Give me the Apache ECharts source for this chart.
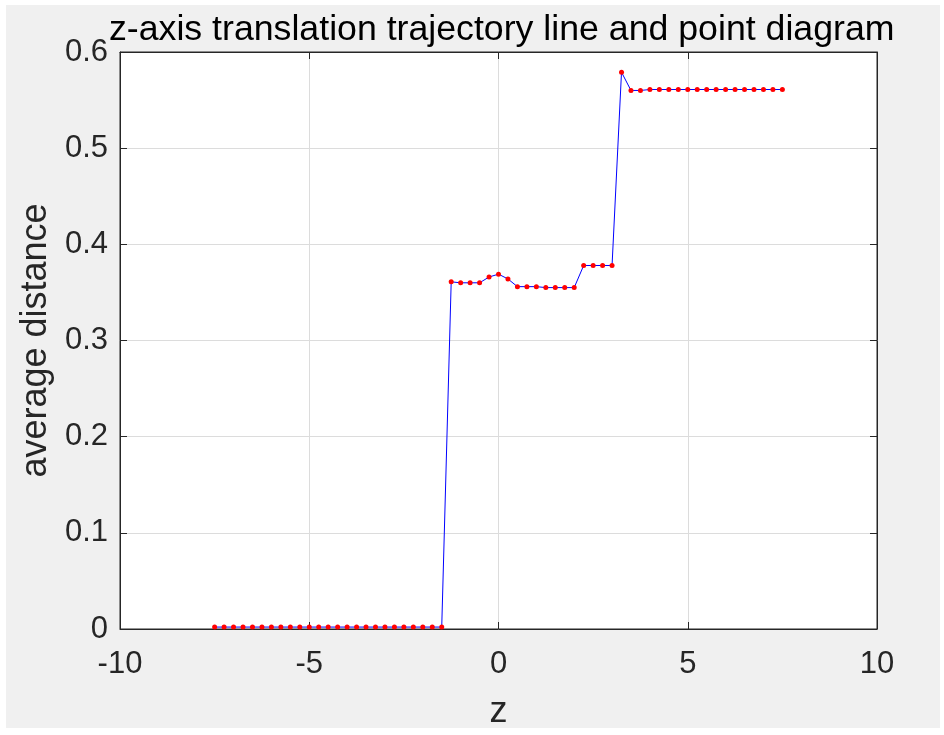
<!DOCTYPE html>
<html><head><meta charset="utf-8">
<script src="https://cdn.jsdelivr.net/npm/echarts@6/dist/echarts.min.js"></script>
<style>html,body{margin:0;padding:0;background:#fff;}#c{width:944px;height:735px;}</style>
</head><body><div id="c"></div>
<script>
var zNeg = [-7.5,-7.25,-7,-6.75,-6.5,-6.25,-6,-5.75,-5.5,-5.25,-5,-4.75,-4.5,-4.25,-4,-3.75,-3.5,-3.25,-3,-2.75,-2.5,-2.25,-2,-1.75,-1.5];
var dNeg = [0.002,0.002,0.002,0.002,0.002,0.002,0.002,0.002,0.002,0.002,0.002,0.002,0.002,0.002,0.002,0.002,0.002,0.002,0.002,0.002,0.002,0.002,0.002,0.002,0.002];
var zMid = [-1.25,-1,-0.75,-0.5,-0.25,0,0.25,0.5,0.75,1,1.25,1.5,1.75,2,2.25,2.5,2.75,3];
var dMid = [0.361,0.360,0.360,0.360,0.366,0.369,0.364,0.356,0.356,0.356,0.355,0.355,0.355,0.355,0.378,0.378,0.378,0.378];
var zPos = [3.25,3.5,3.75,4,4.25,4.5,4.75,5,5.25,5.5,5.75,6,6.25,6.5,6.75,7,7.25,7.5];
var dPos = [0.579,0.560,0.560,0.561,0.561,0.561,0.561,0.561,0.561,0.561,0.561,0.561,0.561,0.561,0.561,0.561,0.561,0.561];
var xTicks = [-10,-5,0,5,10];
var yTicks = [0,0.1,0.2,0.3,0.4,0.5,0.6];

var zs = zNeg.concat(zMid, zPos);
var ds = dNeg.concat(dMid, dPos);
var data = zs.map(function(z,i){return [z, ds[i]];});

var font = '"Liberation Sans", Arial, Helvetica, sans-serif';
var chart = echarts.init(document.getElementById('c'));
var axisLineStyle = {color:'#262626', width:1};
chart.setOption({
  backgroundColor:'#ffffff',
  animation:false,
  graphic:[{type:'rect', z:-10, silent:true, shape:{x:6, y:5, width:934, height:723}, style:{fill:'#f0f0f0'}}],
  title:{text:'z-axis translation trajectory line and point diagram', left:104, top:7,
    textStyle:{fontFamily:font, fontSize:35.7, fontWeight:'normal', color:'#000'}},
  grid:{left:120, right:67, top:52, bottom:106, show:true, backgroundColor:'#fff', borderColor:'#262626', borderWidth:1},
  xAxis:[{type:'value', min:-10, max:10, interval:5, position:'bottom',
    name:'z', nameLocation:'middle', nameGap:65, nameTextStyle:{fontFamily:font, fontSize:36, color:'#262626'},
    axisLine:{onZero:false, lineStyle:axisLineStyle}, axisTick:{inside:true, length:7, lineStyle:axisLineStyle},
    axisLabel:{fontFamily:font, fontSize:31, color:'#262626', margin:20,
      formatter:function(v){return xTicks.indexOf(v)>=0?String(v):'';}},
    splitLine:{show:true, lineStyle:{color:'#dcdcdc', width:1}}},
    {type:'value', min:-10, max:10, interval:5, position:'top',
    axisLine:{show:true, onZero:false, lineStyle:axisLineStyle}, axisTick:{inside:true, length:7, lineStyle:axisLineStyle},
    axisLabel:{show:false}, splitLine:{show:false}}],
  yAxis:[{type:'value', min:0, max:0.6, interval:0.1, position:'left',
    name:'average distance', nameLocation:'middle', nameGap:65, nameTextStyle:{fontFamily:font, fontSize:36, color:'#262626'},
    axisLine:{show:true, onZero:false, lineStyle:axisLineStyle}, axisTick:{show:true, inside:true, length:7, lineStyle:axisLineStyle},
    axisLabel:{fontFamily:font, fontSize:31, color:'#262626', margin:12,
      formatter:function(v){var r=Math.round(v*10)/10; return yTicks.indexOf(r)>=0?String(r):'';}},
    splitLine:{show:true, lineStyle:{color:'#dcdcdc', width:1}}},
    {type:'value', min:0, max:0.6, interval:0.1, position:'right',
    axisLine:{show:true, onZero:false, lineStyle:axisLineStyle}, axisTick:{show:true, inside:true, length:7, lineStyle:axisLineStyle},
    axisLabel:{show:false}, splitLine:{show:false}}],
  series:[{type:'line', data:data, xAxisIndex:0, yAxisIndex:0,
    lineStyle:{color:'#0000ff', width:1},
    symbol:'circle', symbolSize:5,
    itemStyle:{color:'#ff0000', borderWidth:0}}]
});
</script></body></html>
